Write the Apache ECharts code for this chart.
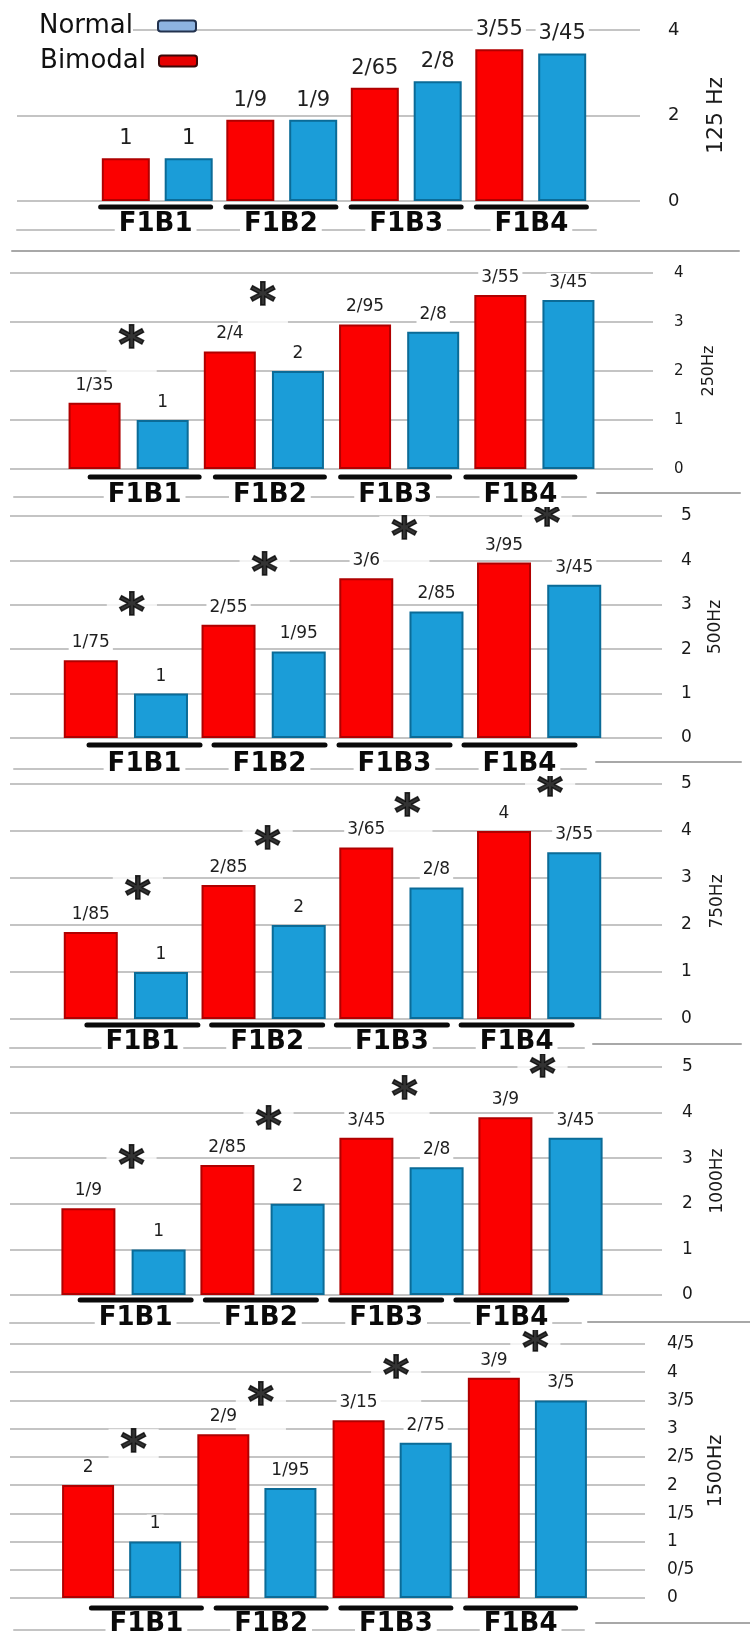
<!DOCTYPE html>
<html><head><meta charset="utf-8">
<script src="https://cdn.jsdelivr.net/npm/echarts@6/dist/echarts.min.js"></script>
<style>html,body{margin:0;padding:0;background:#fff}#c{width:750px;height:1636px}</style>
</head><body><div id="c"></div>
<script>
// ---------------- data ----------------
const categories = ['F1B1', 'F1B2', 'F1B3', 'F1B4'];
const panelNames = ['125 Hz', '250Hz', '500Hz', '750Hz', '1000Hz', '1500Hz'];

const bimodal125 = [1, 1.9, 2.65, 3.55];
const normal125  = [1, 1.9, 2.8, 3.45];
const bimodal250 = [1.35, 2.4, 2.95, 3.55];
const normal250  = [1, 2, 2.8, 3.45];
const bimodal500 = [1.75, 2.55, 3.6, 3.95];
const normal500  = [1, 1.95, 2.85, 3.45];
const bimodal750 = [1.85, 2.85, 3.65, 4];
const normal750  = [1, 2, 2.8, 3.55];
const bimodal1000 = [1.9, 2.85, 3.45, 3.9];
const normal1000  = [1, 2, 2.8, 3.45];
const bimodal1500 = [2, 2.9, 3.15, 3.9];
const normal1500  = [1, 1.95, 2.75, 3.5];

// significance asterisks (height on each panel's value scale)
const stars125  = [null, null, null, null];
const stars250  = [2.57, 3.45, null, null];
const stars500  = [2.88, 3.78, 4.6, 4.89];
const stars750  = [2.66, 3.72, 4.43, 4.85];
const stars1000 = [2.9, 3.75, 4.41, 4.89];
const stars1500 = [2.68, 3.51, 3.99, 4.47];

// tick labels
const ticks125  = ['0', '2', '4'];
const ticks250  = ['0', '1', '2', '3', '4'];
const ticks500  = ['0', '1', '2', '3', '4', '5'];
const ticks750  = ['0', '1', '2', '3', '4', '5'];
const ticks1000 = ['0', '1', '2', '3', '4', '5'];
const ticks1500 = ['0', '0/5', '1', '1/5', '2', '2/5', '3', '3/5', '4', '4/5'];
const tickStep  = [2, 1, 1, 1, 1, 0.5];

// group brackets under each category
const bracket = [1, 1, 1, 1];

const panels = [
  { name: panelNames[0], bimodal: bimodal125, normal: normal125, stars: stars125, ticks: ticks125, step: tickStep[0] },
  { name: panelNames[1], bimodal: bimodal250, normal: normal250, stars: stars250, ticks: ticks250, step: tickStep[1] },
  { name: panelNames[2], bimodal: bimodal500, normal: normal500, stars: stars500, ticks: ticks500, step: tickStep[2] },
  { name: panelNames[3], bimodal: bimodal750, normal: normal750, stars: stars750, ticks: ticks750, step: tickStep[3] },
  { name: panelNames[4], bimodal: bimodal1000, normal: normal1000, stars: stars1000, ticks: ticks1000, step: tickStep[4] },
  { name: panelNames[5], bimodal: bimodal1500, normal: normal1500, stars: stars1500, ticks: ticks1500, step: tickStep[5] }
];

// ---------------- layout (pixels) ----------------
const layout = [
  { y0: 201, yTop: 30, frameL: 17, frameR: 640, barL: 95, barR: 593, barW: 48, gap: '31%', valFont: 21, axFont: 18, axMargin: 28, nameFont: 22, nameX: 716,
    ulY: 207, ulL: 93, ulR: 594, ulW: 115, catY: 224, row: [230, 17, 596], sep: [251, 12, 739], starDx: [0, 0, 0, 0] },
  { y0: 469, yTop: 273, frameL: 10, frameR: 653, barL: 61, barR: 602, barW: 52, gap: '31%', valFont: 17, axFont: 15, axMargin: 21, nameFont: 16, nameX: 709,
    ulY: 477, ulL: 82, ulR: 583, ulW: 114, catY: 495, row: [497, 14, 586], sep: [493, 597, 740], starDx: [3, -1, 0, 0] },
  { y0: 738, yTop: 516, frameL: 10, frameR: 662, barL: 57, barR: 608, barW: 54, gap: '30%', valFont: 17, axFont: 17, axMargin: 19, nameFont: 17, nameX: 716,
    ulY: 745, ulL: 82, ulR: 582, ulW: 116, catY: 764, row: [769, 14, 586], sep: [762, 596, 741], starDx: [6, 1, 3, 8] },
  { y0: 1019, yTop: 784, frameL: 10, frameR: 662, barL: 57, barR: 608, barW: 54, gap: '30%', valFont: 17, axFont: 17, axMargin: 19, nameFont: 17, nameX: 718,
    ulY: 1025, ulL: 80, ulR: 579, ulW: 116, catY: 1042, row: [1048, 10, 584], sep: [1044, 593, 741], starDx: [12, 4, 6, 11] },
  { y0: 1295, yTop: 1067, frameL: 10, frameR: 662, barL: 54, barR: 610, barW: 54, gap: '30%', valFont: 17, axFont: 17, axMargin: 20, nameFont: 17, nameX: 718,
    ulY: 1300, ulL: 73, ulR: 574, ulW: 116, catY: 1318, row: [1323, 10, 581], sep: [1322, 588, 750], starDx: [8, 6, 3, 2] },
  { y0: 1598, yTop: 1344, frameL: 10, frameR: 645, barL: 54, barR: 595, barW: 52, gap: '29%', valFont: 17, axFont: 17, axMargin: 22, nameFont: 19, nameX: 716,
    ulY: 1608, ulL: 84, ulR: 583, ulW: 115, catY: 1624, row: [1630, 14, 584], sep: [1623, 596, 750], starDx: [12, 4, 4, 8] }
];

const RED = '#fb0000', RED_B = '#b00000';
const BLUE = '#1b9dd8', BLUE_B = '#0b6b97';
const GRID_C = '#c4c4c4';
const FONT = 'DejaVu Sans';
const STAR_DY = 6;

const grid = [], xAxis = [], yAxis = [], series = [];
function addGrid(g) { g.outerBoundsMode = 'none'; g.containLabel = false; grid.push(g); return grid.length - 1; }

function lineGrid(spec, color, z) {
  const [y, x1, x2] = spec;
  const g = addGrid({ left: x1, top: y - 1, width: x2 - x1, height: 1 });
  xAxis.push({ gridIndex: g, type: 'value', min: 0, max: 1, z: z,
    axisLine: { show: true, onZero: false, lineStyle: { color: color, width: 2 } },
    axisTick: { show: false }, axisLabel: { show: false }, splitLine: { show: false } });
  yAxis.push({ gridIndex: g, type: 'value', min: 0, max: 1, show: false });
}

const fmt = v => String(v).replace('.', '/');

panels.forEach((p, k) => {
  const L = layout[k];
  const h = L.y0 - L.yTop;
  const max = (p.ticks.length - 1) * p.step;

  // frame grid: gridlines + right axis labels + panel name
  const gF = addGrid({ left: L.frameL, top: L.yTop, width: L.frameR - L.frameL, height: h });
  xAxis.push({ gridIndex: gF, type: 'value', min: 0, max: 1, show: false });
  yAxis.push({ gridIndex: gF, type: 'value', position: 'right', min: 0, max: max, interval: p.step,
    axisLine: { show: false }, axisTick: { show: false },
    splitLine: { show: true, lineStyle: { color: GRID_C, width: 2 } },
    axisLabel: { margin: L.axMargin, fontSize: L.axFont, color: '#1a1a1a', fontFamily: FONT,
      formatter: v => p.ticks[Math.round(v / p.step)] },
    name: p.name, nameLocation: 'middle', nameRotate: 90, nameMoveOverlap: false,
    nameGap: L.nameX - L.frameR - L.nameFont / 2,
    nameTextStyle: { fontSize: L.nameFont, color: '#1a1a1a', fontFamily: FONT } });

  // bar grid
  const gB = addGrid({ left: L.barL, top: L.yTop, width: L.barR - L.barL, height: h });
  xAxis.push({ gridIndex: gB, type: 'category', data: categories, show: false });
  yAxis.push({ gridIndex: gB, type: 'value', min: 0, max: max, show: false });

  const valLabel = { show: true, position: 'top', distance: 8, fontSize: L.valFont, fontFamily: FONT,
    color: '#1f1f1f', backgroundColor: '#fff', padding: [1, 3], formatter: q => fmt(q.value) };

  series.push({ type: 'bar', name: 'Bimodal', xAxisIndex: gB, yAxisIndex: gB, data: p.bimodal,
    barWidth: L.barW, barGap: L.gap, z: 3,
    itemStyle: { color: RED, borderColor: RED_B, borderWidth: 2 }, label: valLabel });
  series.push({ type: 'bar', name: 'Normal', xAxisIndex: gB, yAxisIndex: gB, data: p.normal,
    barWidth: L.barW, barGap: L.gap, z: 3,
    itemStyle: { color: BLUE, borderColor: BLUE_B, borderWidth: 2 }, label: valLabel });

  const starData = [];
  p.stars.forEach((v, i) => {
    if (v != null) starData.push({ value: [i, v], label: { offset: [L.starDx[i], STAR_DY] } });
  });
  if (starData.length) {
    series.push({ type: 'scatter', name: 'sig', xAxisIndex: gB, yAxisIndex: gB, data: starData,
      clip: false, symbol: 'circle', symbolSize: 2, itemStyle: { color: 'rgba(255,255,255,0)' }, z: 2, silent: true,
      label: { show: true, position: 'inside', formatter: '*', fontSize: 50, fontWeight: 'bold',
        fontFamily: FONT, color: '#000', textBorderColor: '#000', textBorderWidth: 1.5,
        backgroundColor: '#fff', lineHeight: 8,
        padding: [40, 12, 0, 12], align: 'center', verticalAlign: 'middle' } });
  }

  // bracket + category label grid
  const gU = addGrid({ left: L.ulL, top: L.ulY - 2.5, width: L.ulR - L.ulL, height: 5 });
  xAxis.push({ gridIndex: gU, type: 'category', data: categories, z: 5,
    axisLine: { show: false }, axisTick: { show: false },
    axisLabel: { margin: L.catY - L.ulY - 2.5 - 12, fontSize: 26, fontWeight: 'bold', fontFamily: FONT,
      color: '#0a0a0a', backgroundColor: '#fff', padding: [0, 4], lineHeight: 24 } });
  yAxis.push({ gridIndex: gU, type: 'value', min: 0, max: 1, show: false });
  series.push({ type: 'bar', name: 'bracket', xAxisIndex: gU, yAxisIndex: gU, data: bracket,
    barWidth: L.ulW, silent: true, itemStyle: { color: '#0a0a0a', borderRadius: 3 } });

  lineGrid(L.row, GRID_C, 1);
  lineGrid(L.sep, '#a8a8a8', 1);
});

const legendBase = { orient: 'vertical', align: 'right', padding: 0, itemWidth: 38, itemHeight: 11,
  icon: 'roundRect', selectedMode: false };
const option = {
  animation: false,
  backgroundColor: '#fff',
  legend: [
    Object.assign({}, legendBase, { right: 553, top: 11,
      data: [{ name: 'Normal', itemStyle: { color: '#8db3e0', borderColor: '#22324e', borderWidth: 2 } }],
      formatter: n => '{t|' + n + '}{s| }',
      textStyle: { rich: { t: { fontSize: 26, fontFamily: FONT, color: '#111', backgroundColor: '#fff', padding: [2, 0, 2, 26], lineHeight: 28 },
        s: { width: 20, fontSize: 10 } } } }),
    Object.assign({}, legendBase, { right: 552, top: 46,
      data: [{ name: 'Bimodal', itemStyle: { color: '#e60000', borderColor: '#3a0808', borderWidth: 2 } }],
      formatter: n => '{t|' + n + '}{s| }',
      textStyle: { rich: { t: { fontSize: 26, fontFamily: FONT, color: '#111', padding: [2, 0, 2, 0], lineHeight: 28 },
        s: { width: 8, fontSize: 10 } } } })
  ],
  grid: grid, xAxis: xAxis, yAxis: yAxis, series: series
};

const chart = echarts.init(document.getElementById('c'), null, { renderer: 'canvas' });
chart.setOption(option);
</script>
</body></html>
